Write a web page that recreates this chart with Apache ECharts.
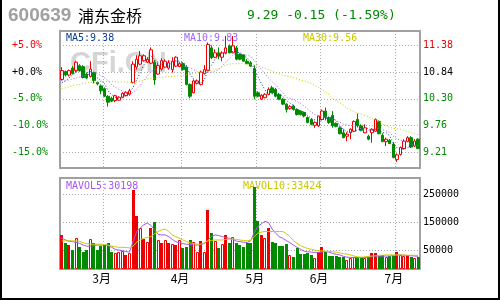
<!DOCTYPE html>
<html><head><meta charset="utf-8">
<script src="https://cdn.jsdelivr.net/npm/echarts@6/dist/echarts.min.js"></script>
<style>html,body{margin:0;padding:0;background:#fff}#c{width:500px;height:300px}</style>
</head><body><div id="c"></div>
<script>
const monthNames = ['2月','3月','4月','5月','6月','7月'];
const monthCounts = [12,22,21,18,21,7];
const basePrice = 10.84;
const pctTicks = [5,0,-5,-10,-15];
const volTicks = [50000,150000,250000];

const opens = [10.69,10.85,10.78,10.92,10.87,10.97,10.95,10.80,10.75,10.83,
10.63,10.56,10.50,10.35,10.31,10.26,10.27,10.33,10.36,10.39,
10.63,10.94,11.00,11.07,11.04,11.02,11.04,10.80,10.90,10.94,
10.92,10.89,10.96,10.95,11.01,10.94,10.59,10.42,10.61,10.59,
10.81,10.87,11.33,11.14,11.23,11.14,11.23,11.37,11.23,11.33,
11.20,11.19,11.06,11.03,10.91,10.42,10.29,10.32,10.39,10.52,
10.49,10.39,10.29,10.19,10.10,10.15,10.08,10.05,10.02,9.92,
9.88,9.76,9.75,9.88,10.05,9.92,9.96,9.80,9.71,9.61,
9.54,9.61,9.64,9.88,9.75,9.61,9.54,9.61,9.64,9.84,
9.56,9.43,9.46,9.38,9.07,9.17,9.29,9.43,9.51,9.34,9.48];
const closes = [10.87,10.78,10.87,10.81,11.04,10.87,10.73,10.72,10.90,10.67,
10.60,10.46,10.35,10.23,10.25,10.36,10.33,10.41,10.43,10.46,
11.00,11.10,11.17,11.17,11.10,11.29,10.68,10.97,11.07,11.06,
11.03,11.06,11.14,11.01,10.89,10.59,10.35,10.66,10.66,10.84,
10.89,11.40,11.13,11.23,11.16,11.23,11.33,11.23,11.37,11.10,
11.10,11.06,11.01,10.96,10.35,10.35,10.37,10.39,10.49,10.42,
10.35,10.29,10.19,10.08,10.14,10.08,9.98,9.98,9.95,9.82,
9.78,9.82,9.95,10.05,9.92,9.82,9.75,9.74,9.59,9.51,
9.58,9.68,9.84,9.75,9.66,9.71,9.48,9.68,9.88,9.59,
9.43,9.48,9.39,9.11,9.16,9.31,9.44,9.51,9.32,9.44,9.29];
const lows = [10.67,10.75,10.75,10.79,10.83,10.85,10.71,10.70,10.73,10.61,
10.57,10.39,10.33,10.14,10.23,10.23,10.26,10.31,10.35,10.36,
10.61,10.89,10.98,11.05,11.02,11.00,10.58,10.78,10.87,10.92,
10.89,10.83,10.94,10.94,10.87,10.57,10.31,10.41,10.59,10.57,
10.79,10.85,11.10,11.12,11.10,11.06,11.20,11.22,11.22,11.08,
11.08,11.05,11.00,10.95,10.29,10.33,10.27,10.31,10.37,10.41,
10.33,10.27,10.17,10.02,10.08,10.06,9.96,9.96,9.92,9.80,
9.76,9.71,9.73,9.86,9.86,9.79,9.71,9.72,9.58,9.50,
9.44,9.48,9.63,9.72,9.64,9.60,9.46,9.41,9.63,9.58,
9.42,9.34,9.38,9.09,9.02,9.15,9.27,9.42,9.30,9.32,9.28];
const highs = [10.94,10.87,10.89,10.96,11.07,11.00,10.98,10.83,11.06,10.85,
10.65,10.59,10.53,10.37,10.34,10.38,10.35,10.43,10.45,10.50,
11.06,11.18,11.27,11.20,11.14,11.34,11.08,11.02,11.12,11.10,
11.08,11.14,11.16,11.04,11.04,10.98,10.61,10.69,10.69,10.87,
10.98,11.44,11.38,11.30,11.34,11.26,11.57,11.40,11.57,11.37,
11.22,11.20,11.10,11.06,10.98,10.45,10.39,10.41,10.53,10.56,
10.52,10.41,10.31,10.21,10.17,10.18,10.10,10.06,10.04,9.94,
9.90,9.84,9.96,10.08,10.12,9.94,10.05,9.82,9.74,9.68,
9.62,9.70,9.86,10.00,9.78,9.78,9.57,9.70,9.90,9.86,
9.60,9.51,9.48,9.42,9.19,9.33,9.48,9.54,9.54,9.48,9.50];
const ma5 = [10.62,10.66,10.72,10.78,10.84,10.87,10.86,10.83,10.85,10.78,
10.72,10.67,10.60,10.46,10.38,10.33,10.30,10.32,10.36,10.40,
10.53,10.68,10.83,10.98,11.11,11.17,11.08,11.04,11.02,11.01,
10.96,11.04,11.07,11.06,11.03,10.94,10.80,10.70,10.63,10.62,
10.68,10.89,10.98,11.10,11.16,11.23,11.22,11.24,11.26,11.25,
11.23,11.17,11.13,11.05,10.90,10.75,10.61,10.48,10.39,10.40,
10.40,10.39,10.35,10.27,10.21,10.16,10.09,10.05,10.03,9.96,
9.90,9.87,9.86,9.88,9.90,9.91,9.90,9.86,9.76,9.68,
9.63,9.62,9.64,9.67,9.70,9.73,9.69,9.66,9.68,9.67,
9.61,9.61,9.55,9.40,9.31,9.29,9.28,9.31,9.35,9.40,9.38];
const ma10 = [10.66,10.67,10.68,10.70,10.72,10.74,10.76,10.78,10.80,10.83,
10.80,10.77,10.72,10.66,10.58,10.53,10.49,10.46,10.41,10.39,
10.43,10.49,10.57,10.67,10.75,10.85,10.88,10.94,11.00,11.06,
11.06,11.06,11.06,11.04,11.02,10.95,10.92,10.89,10.85,10.82,
10.81,10.84,10.84,10.86,10.89,10.96,11.05,11.11,11.18,11.21,
11.23,11.19,11.18,11.16,11.07,10.99,10.89,10.81,10.72,10.65,
10.58,10.50,10.42,10.33,10.31,10.28,10.24,10.20,10.15,10.09,
10.03,9.98,9.96,9.96,9.93,9.91,9.88,9.86,9.82,9.79,
9.77,9.76,9.75,9.72,9.69,9.68,9.65,9.65,9.68,9.69,
9.67,9.65,9.61,9.54,9.49,9.45,9.45,9.43,9.37,9.36,9.35];
const ma30 = [10.50,10.52,10.54,10.56,10.58,10.59,10.61,10.62,10.63,10.63,
10.64,10.65,10.65,10.65,10.65,10.65,10.64,10.64,10.64,10.63,
10.63,10.64,10.66,10.68,10.70,10.71,10.72,10.73,10.73,10.74,
10.75,10.75,10.76,10.76,10.77,10.79,10.80,10.81,10.83,10.84,
10.85,10.86,10.88,10.89,10.91,10.95,10.98,11.00,11.01,11.01,
11.01,11.01,11.00,11.00,10.98,10.96,10.94,10.92,10.89,10.86,
10.83,10.80,10.78,10.76,10.75,10.73,10.70,10.68,10.66,10.64,
10.61,10.57,10.53,10.48,10.44,10.38,10.31,10.26,10.22,10.17,
10.11,10.07,10.04,10.01,9.99,9.96,9.94,9.90,9.87,9.83,
9.79,9.75,9.72,9.70,9.69,9.68,9.65,9.63,9.61,9.59,9.57];
const volumes = [106000,76000,70000,52000,94000,62000,47000,52000,91000,76000,
52000,66000,70000,76000,47000,41000,47000,50000,35000,41000,
267000,174000,130000,91000,82000,130000,150000,88000,76000,88000,
78000,73000,70000,88000,61000,64000,88000,82000,47000,85000,
47000,196000,114000,85000,59000,73000,106000,78000,100000,78000,
70000,62000,78000,76000,277000,155000,106000,94000,130000,82000,
76000,66000,66000,73000,35000,26000,59000,38000,38000,41000,
35000,23000,47000,62000,47000,31000,31000,31000,26000,26000,
18000,25000,26000,26000,23000,23000,26000,41000,41000,31000,
35000,26000,31000,31000,47000,35000,31000,35000,26000,23000,26000];
// u = hollow red, r = filled red, g = green
const volKind = ['r','g','r','g','u','g','g','g','u','g',
'g','g','g','g','g','u','u','u','r','u',
'r','r','u','r','u','r','g','u','r','u',
'r','u','r','u','g','g','g','u','u','r',
'u','r','g','u','g','u','r','g','u','g',
'g','g','g','g','g','g','r','u','r','g',
'g','g','g','g','u','g','g','g','g','g',
'g','u','r','r','g','g','g','g','g','g',
'u','u','u','g','g','u','g','r','r','g',
'g','u','g','g','r','u','u','r','g','u','g'];
const mavol5 = [94000,88000,84000,82000,80000,76000,70000,66000,66000,68000,
70000,70000,70000,68000,62000,55000,52000,50000,47000,45000,
82000,118000,130000,142000,148000,140000,125000,108000,106000,106000,
100000,90000,82000,78000,75000,73000,72000,70000,70000,72000,
75000,88000,100000,106000,104000,100000,96000,94000,90000,84000,
82000,80000,79000,85000,115000,136000,145000,154000,150000,127000,
112000,100000,94000,86000,78000,70000,62000,55000,48000,46000,
45000,44000,44000,46000,47000,45000,40000,37000,35000,30000,
27000,26000,26000,26000,26000,26000,27000,29000,31000,31000,
31000,31000,31000,33000,35000,35000,34000,33000,32000,31000,30198];
const mavol10 = [85000,85000,85000,85000,85000,83000,78000,75000,73000,73000,
73000,73000,72000,70000,66000,64000,62000,62000,61000,60000,
66000,80000,88000,94000,97000,100000,110000,118000,124000,127000,
118000,106000,100000,94000,88000,82000,78000,75000,73000,73000,
78000,85000,86000,88000,88000,88000,90000,91000,91000,90000,
88000,86000,85000,88000,100000,112000,116000,118000,118000,118000,
118000,118000,118000,110000,100000,86000,76000,68000,62000,58000,
55000,52000,50000,49000,48000,47000,46000,45000,42000,39000,
38000,35000,31000,28000,27000,28000,30000,31000,32000,33000,
34000,35000,35000,35000,35000,35000,34500,34000,33800,33600,33424];

const RED = '#ee0000', GREEN = '#008a00';
const categories = [];
monthNames.forEach((m, k) => { for (let d = 1; d <= monthCounts[k]; d++) categories.push(m + '#' + d); });
const monthStart = [];
(function(){ let acc = 0; monthCounts.forEach((c, k) => { if (k > 0) monthStart.push(acc); acc += c; }); })();
const isMonthStart = i => monthStart.indexOf(i) >= 0;
const ohlc = opens.map((o, i) => [o, closes[i], lows[i], highs[i]]);
const priceTicks = pctTicks.map(p => +(basePrice * (1 + p / 100)).toFixed(4));
const pctOf = v => Math.round((v / basePrice - 1) * 1000) / 10;
const tickColor = v => { const p = pctOf(v); return p > 0 ? RED : (p < 0 ? GREEN : '#000'); };
const MONO = '"DejaVu Sans Mono", monospace';
const gridLine = {show:true, lineStyle:{color:'#aaa', width:1, type:[1,2]}};

const chart = echarts.init(document.getElementById('c'), null, {renderer:'canvas'});
chart.setOption({
  animation: false,
  backgroundColor: '#fff',
  grid: [
    {left:60, top:31, width:360, height:137, show:true, borderColor:'#a0a0a0', borderWidth:2},
    {left:60, top:178, width:360, height:91, show:true, borderColor:'#a0a0a0', borderWidth:2}
  ],
  xAxis: [
    {type:'category', gridIndex:0, data:categories, boundaryGap:true,
     axisLine:{show:false}, axisTick:{show:false}, axisLabel:{show:false},
     splitLine:Object.assign({interval:(i)=>isMonthStart(i)}, gridLine)},
    {type:'category', gridIndex:1, data:categories, boundaryGap:true,
     axisLine:{show:false}, axisTick:{show:false},
     axisLabel:{show:true, interval:(i)=>isMonthStart(i), formatter:v=>v.split('#')[0],
       margin:3, fontSize:12, color:'#000', fontFamily:'"Noto Sans CJK SC", sans-serif', padding:[0,6,0,0]},
     splitLine:Object.assign({interval:(i)=>isMonthStart(i)}, gridLine)}
  ],
  yAxis: [
    {type:'value', gridIndex:0, position:'left', min:8.896, max:11.672, scale:true,
     axisLine:{show:false},
     axisTick:{show:false, customValues:priceTicks},
     axisLabel:{customValues:priceTicks, align:'left', margin:48, fontSize:10, fontFamily:MONO,
       formatter:v=>{const p=pctOf(v); return (p>=0?'+':'')+p.toFixed(1)+'%';}, color:(v)=>tickColor(v)},
     splitLine:gridLine},
    {type:'value', gridIndex:0, position:'right', min:8.896, max:11.672, scale:true,
     axisLine:{show:false},
     axisTick:{show:false, customValues:priceTicks},
     axisLabel:{customValues:priceTicks, margin:3, fontSize:10, fontFamily:MONO,
       formatter:v=>v.toFixed(2), color:(v)=>tickColor(v)},
     splitLine:{show:false}},
    {type:'value', gridIndex:1, position:'right', min:-14900, max:307800,
     axisLine:{show:false},
     axisTick:{show:false, customValues:volTicks},
     axisLabel:{customValues:volTicks, margin:3, fontSize:10, fontFamily:MONO, color:'#000',
       formatter:v=>String(Math.round(v))},
     splitLine:gridLine}
  ],
  series: [
    {type:'candlestick', xAxisIndex:0, yAxisIndex:0, data:ohlc, barWidth:3, z:2,
     itemStyle:{color:'#fff', color0:GREEN, borderColor:RED, borderColor0:GREEN, borderWidth:1}},
    {type:'line', xAxisIndex:0, yAxisIndex:0, data:ma5, symbol:'none', z:3,
     lineStyle:{color:'#0b3d91', width:1, type:[1,2]}},
    {type:'line', xAxisIndex:0, yAxisIndex:0, data:ma10, symbol:'none', z:3,
     lineStyle:{color:'#a066ff', width:1, type:[1,2]}},
    {type:'line', xAxisIndex:0, yAxisIndex:0, data:ma30, symbol:'none', z:3,
     lineStyle:{color:'#cccc00', width:1, type:[1,2]}},
    {type:'custom', xAxisIndex:1, yAxisIndex:2, z:2,
     data: volumes.map((v,i)=>[i,v]),
     encode:{x:0, y:1},
     renderItem:function(params, api){
       const i = api.value(0), v = api.value(1);
       const p = api.coord([i, v]);
       const cs = params.coordSys;
       const bottom = cs.y + cs.height;
       const x0 = Math.round(p[0] - 1.5), y0 = Math.round(p[1]);
       const kind = volKind[i];
       if (kind === 'u') {
         return {type:'rect', shape:{x:x0+0.5, y:y0+0.5, width:2, height:bottom-y0-1},
                 style:{fill:'#fff', stroke:RED, lineWidth:1}};
       }
       return {type:'rect', shape:{x:x0, y:y0, width:3, height:bottom-y0},
               style:{fill: kind==='r' ? RED : GREEN}};
     }},
    {type:'line', xAxisIndex:1, yAxisIndex:2, data:mavol5, symbol:'none', z:3,
     lineStyle:{color:'#a855f7', width:1}},
    {type:'line', xAxisIndex:1, yAxisIndex:2, data:mavol10, symbol:'none', z:3,
     lineStyle:{color:'#cccc00', width:1}}
  ],
  graphic: [
    {type:'polyline', z:10, shape:{points:[[1,0],[1,299],[499,299],[499,0]]}, style:{stroke:'#000', lineWidth:2, fill:null}},
    {type:'text', x:8, y:16, z:0, style:{text:'600639', fill:'#a0a0a0', font:'bold 19px "Liberation Sans", Arial, sans-serif', verticalAlign:'middle'}},
    {type:'text', x:78, y:15.5, z:0, style:{text:'浦东金桥', fill:'#000', font:'16px "Noto Sans CJK SC", sans-serif', verticalAlign:'middle'}},
    {type:'text', x:247, y:16, z:0, style:{text:'9.29 -0.15 (-1.59%)', fill:'#008800', font:'13px "DejaVu Sans Mono", monospace', verticalAlign:'middle'}},
    {type:'text', x:70, y:64, z:0, style:{text:'CFi.CN', fill:'rgba(150,150,150,0.4)', font:'bold 29px "Liberation Sans", Arial, sans-serif', verticalAlign:'middle'}},
    {type:'text', x:66, y:38.5, z:0, style:{text:'MA5:9.38', fill:'#0b3d91', font:'10px "DejaVu Sans Mono", monospace', verticalAlign:'middle'}},
    {type:'text', x:184, y:38.5, z:0, style:{text:'MA10:9.83', fill:'#a066ff', font:'10px "DejaVu Sans Mono", monospace', verticalAlign:'middle'}},
    {type:'text', x:303, y:38.5, z:0, style:{text:'MA30:9.56', fill:'#c8c800', font:'10px "DejaVu Sans Mono", monospace', verticalAlign:'middle'}},
    {type:'text', x:66, y:186, z:0, style:{text:'MAVOL5:30198', fill:'#a855f7', font:'10px "DejaVu Sans Mono", monospace', verticalAlign:'middle'}},
    {type:'text', x:243, y:186, z:0, style:{text:'MAVOL10:33424', fill:'#c8c800', font:'10px "DejaVu Sans Mono", monospace', verticalAlign:'middle'}}
  ]
});
</script>
</body></html>
